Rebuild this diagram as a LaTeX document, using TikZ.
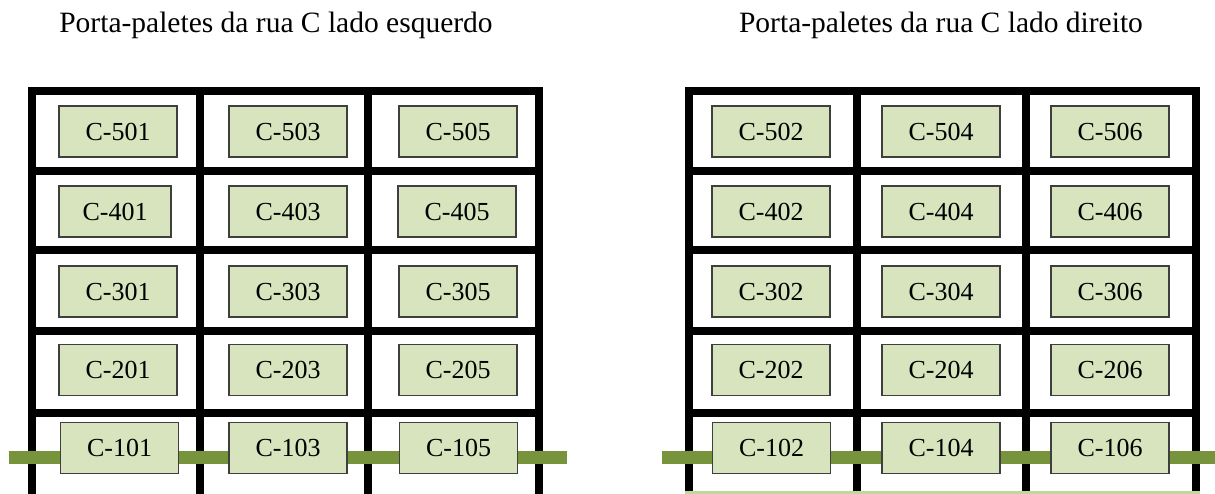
\documentclass[tikz,border=0pt]{standalone}
\usepackage{fontspec}
\setmainfont{Liberation Serif}
\usepackage{tikz}
\usetikzlibrary{positioning}

\definecolor{slotfill}{HTML}{D7E4BD}
\definecolor{slotline}{HTML}{3F3F3F}
\definecolor{beamgreen}{HTML}{77933C}
\definecolor{floorgreen}{HTML}{C3D69B}

\begin{document}
\begin{tikzpicture}[
  x=1pt, y=-1pt,
  rack/.style  = {draw=black, line width=8pt, line cap=rect},
  beam/.style  = {draw=beamgreen, line width=13pt},
  slot/.style  = {draw=slotline, fill=slotfill, line width=1.2pt, rectangle,
                  minimum width=118pt, minimum height=51pt, inner sep=0pt,
                  font=\fontsize{26}{26}\selectfont},
  title/.style = {anchor=base, inner sep=0pt, font=\fontsize{29.5}{30}\selectfont},
]
  \useasboundingbox (0,0) rectangle (1215,494);

  \node[title] (tleft)  at (276,32.5) {Porta-paletes da rua C lado esquerdo};
  \node[title] (tright) at (941,32.5) {Porta-paletes da rua C lado direito};

  % left rack
  \draw[rack] (32,91) -- (539,91);
  \draw[rack] (32,171) -- (539,171);
  \draw[rack] (32,250) -- (539,250);
  \draw[rack] (32,331) -- (539,331);
  \draw[rack] (32,413) -- (539,413);
  \draw[rack, line cap=butt] (32,87) -- (32,494);
  \draw[rack, line cap=butt] (200,87) -- (200,494);
  \draw[rack, line cap=butt] (368,87) -- (368,494);
  \draw[rack, line cap=butt] (539,87) -- (539,494);

  % right rack
  \draw[rack] (689,91) -- (1196,91);
  \draw[rack] (689,171) -- (1196,171);
  \draw[rack] (689,250) -- (1196,250);
  \draw[rack] (689,331) -- (1196,331);
  \draw[rack] (689,413) -- (1196,413);
  \draw[rack, line cap=butt] (689,87) -- (689,494);
  \draw[rack, line cap=butt] (857,87) -- (857,494);
  \draw[rack, line cap=butt] (1026,87) -- (1026,494);
  \draw[rack, line cap=butt] (1196,87) -- (1196,494);
  \draw[floorgreen, line width=3pt] (685,492.5) -- (1200,492.5);

  % beams
  \draw[beam] (9,457) -- (567,457);
  \draw[beam] (662,457) -- (1215,457);

  % left slots
  \node[slot] (c501) at (118,131.5) {C-501};
  \node[slot] (c503) at (288,131.5) {C-503};
  \node[slot] (c505) at (458,131.5) {C-505};
  \node[slot, minimum width=112pt] (c401) at (115,211.5) {C-401};
  \node[slot] (c403) at (288,211.5) {C-403};
  \node[slot] (c405) at (457,211.5) {C-405};
  \node[slot] (c301) at (118,291.5) {C-301};
  \node[slot] (c303) at (288,291.5) {C-303};
  \node[slot] (c305) at (458,291.5) {C-305};
  \node[slot] (c201) at (118,370) {C-201};
  \node[slot] (c203) at (288,370) {C-203};
  \node[slot] (c205) at (458,370) {C-205};
  \node[slot] (c101) at (119.5,448) {C-101};
  \node[slot] (c103) at (288,448) {C-103};
  \node[slot] (c105) at (458.5,448) {C-105};

  % right slots
  \node[slot] (c502) at (771,131.5) {C-502};
  \node[slot] (c504) at (941,131.5) {C-504};
  \node[slot] (c506) at (1110,131.5) {C-506};
  \node[slot] (c402) at (771,211.5) {C-402};
  \node[slot] (c404) at (941,211.5) {C-404};
  \node[slot] (c406) at (1110,211.5) {C-406};
  \node[slot] (c302) at (771,291.5) {C-302};
  \node[slot] (c304) at (941,291.5) {C-304};
  \node[slot] (c306) at (1110,291.5) {C-306};
  \node[slot] (c202) at (771,370) {C-202};
  \node[slot] (c204) at (941,370) {C-204};
  \node[slot] (c206) at (1110,370) {C-206};
  \node[slot] (c102) at (771.5,448) {C-102};
  \node[slot] (c104) at (941,448) {C-104};
  \node[slot] (c106) at (1110,448) {C-106};
\end{tikzpicture}
\end{document}
